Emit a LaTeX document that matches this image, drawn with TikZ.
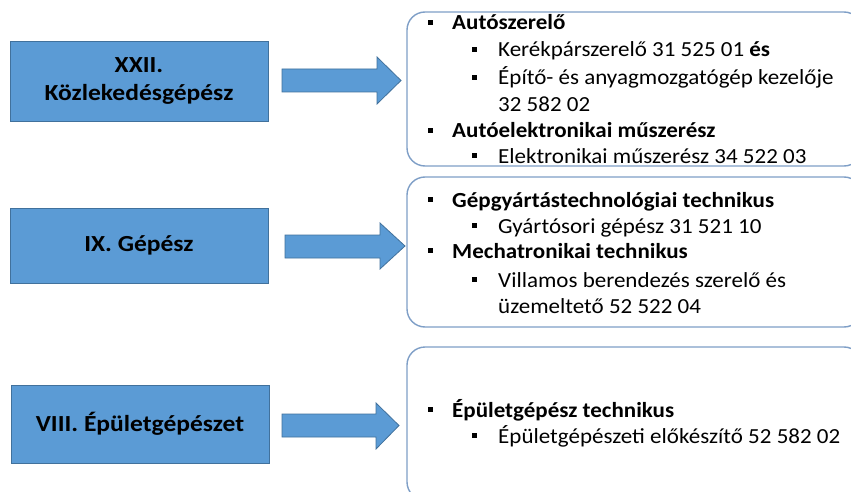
\documentclass[tikz,border=0pt]{standalone}
\usepackage{fontspec}
\setmainfont{Carlito}
\newfontfamily\listfont[FakeStretch=1.07]{Carlito}
\newfontfamily\titlefont[FakeStretch=1.11]{Carlito}
\definecolor{fillblue}{HTML}{5B9BD5}
\definecolor{edgeblue}{HTML}{41719C}
\definecolor{roundedge}{HTML}{7F9FC7}
\begin{document}
\begin{tikzpicture}[x=1pt,y=-1pt,
 catbox/.style={draw=edgeblue, fill=fillblue, line width=0.8pt, minimum width=258pt, font=\titlefont\fontsize{23}{28}\selectfont\bfseries, align=center, inner sep=0pt},
 listbox/.style={draw=roundedge, line width=1.4pt, rounded corners=18pt},
 blockarrow/.style={fill=fillblue, draw=edgeblue, line width=0.8pt},
 lvlone/.style={anchor=base west, inner sep=0pt, font=\listfont\fontsize{21.5}{26}\selectfont\bfseries},
 lvltwo/.style={anchor=base west, inner sep=0pt, font=\listfont\fontsize{21.5}{26}\selectfont},
 sqbullet/.style={fill=black, minimum size=5pt, inner sep=0pt},
]
\useasboundingbox (0,0) rectangle (851,492);
\clip (0,0) rectangle (851,492);
\fill[white] (0,0) rectangle (851,492);

% category boxes
\node[catbox, minimum height=80pt] (c1) at (139,81) {XXII.\\Közlekedésgépész};
\node[catbox, minimum height=75pt] (c2) at (139,245.5) {IX. Gépész};
\node[catbox, minimum height=78pt] (c3) at (140,424) {VIII. Épületgépészet};

% block arrows
\draw[blockarrow] (282,69) -- (377,69) -- (377,57) -- (401,80.5) -- (377,104) -- (377,92) -- (282,92) -- cycle;
\draw[blockarrow] (285,235) -- (380,235) -- (380,223) -- (405,246) -- (380,269) -- (380,258) -- (285,258) -- cycle;
\draw[blockarrow] (282,414) -- (376,414) -- (376,403) -- (399,425.5) -- (376,449) -- (376,437) -- (282,437) -- cycle;

% list boxes
\draw[listbox] (407,12) rectangle (862,166);
\draw[listbox] (407,177) rectangle (862,327);
\draw[listbox] (407,347) rectangle (862,500);

% box 1
\node[sqbullet] (b11) at (430.5,22.5) {};
\node[lvlone] (t11) at (452,30) {Autószerelő};
\node[sqbullet] (b12) at (474.5,49.5) {};
\node[lvltwo] (t12) at (498,57) {Kerékpárszerelő 31 525 01 \textbf{és}};
\node[sqbullet] (b13) at (474.5,77.5) {};
\node[lvltwo] (t13) at (498,85) {Építő- és anyagmozgatógép kezelője};
\node[lvltwo] (t14) at (498,112) {32 582 02};
\node[sqbullet] (b15) at (430.5,130.5) {};
\node[lvlone] (t15) at (452,138) {Autóelektronikai műszerész};
\node[sqbullet] (b16) at (474.5,155.5) {};
\node[lvltwo] (t16) at (498,163) {Elektronikai műszerész 34 522 03};

% box 2
\node[sqbullet] (b21) at (430.5,199.5) {};
\node[lvlone] (t21) at (452,207) {Gépgyártástechnológiai technikus};
\node[sqbullet] (b22) at (474.5,225.5) {};
\node[lvltwo] (t22) at (498,233) {Gyártósori gépész 31 521 10};
\node[sqbullet] (b23) at (430.5,250.5) {};
\node[lvlone] (t23) at (452,258) {Mechatronikai technikus};
\node[sqbullet] (b24) at (474.5,279.5) {};
\node[lvltwo] (t24) at (498,287) {Villamos berendezés szerelő és};
\node[lvltwo] (t25) at (498,313) {üzemeltető 52 522 04};

% box 3
\node[sqbullet] (b31) at (430.5,409.5) {};
\node[lvlone] (t31) at (452,417) {Épületgépész technikus};
\node[sqbullet] (b32) at (474.5,435.5) {};
\node[lvltwo] (t32) at (498,443) {Épületgépészeti előkészítő 52 582 02};
\end{tikzpicture}
\end{document}
